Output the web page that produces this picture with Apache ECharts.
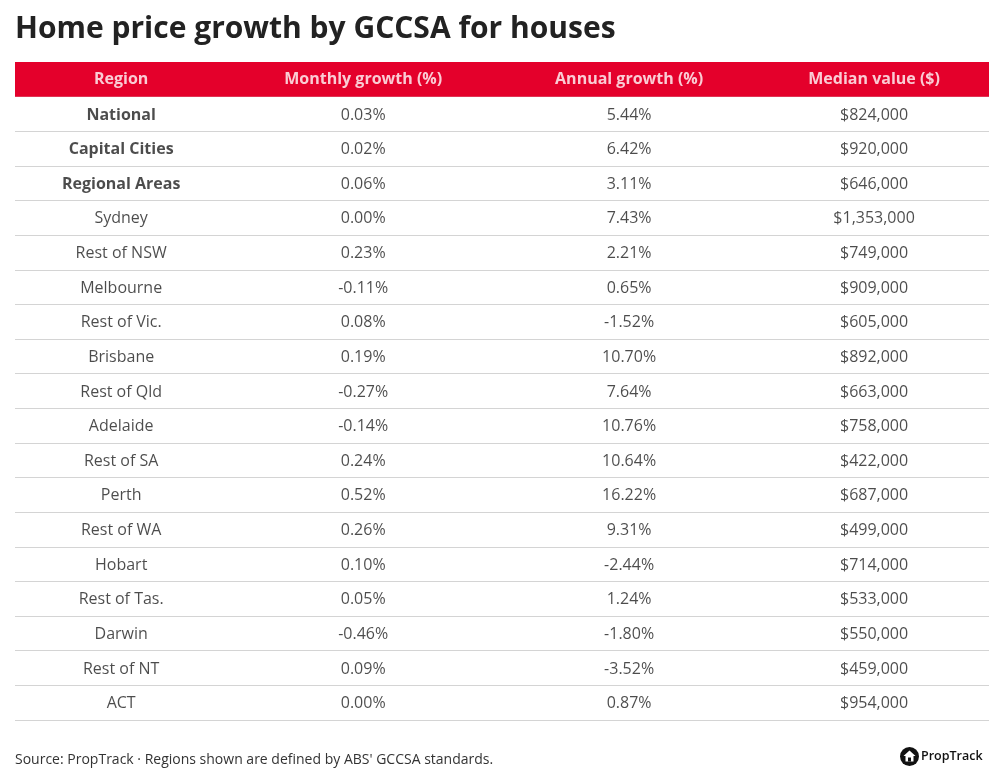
<!DOCTYPE html>
<html>
<head>
<meta charset="utf-8">
<script src="https://cdn.jsdelivr.net/npm/echarts@6/dist/echarts.min.js"></script>
<style>
  html, body { margin: 0; padding: 0; background: #ffffff; }
  #chart { width: 1004px; height: 782px; }
</style>
</head>
<body>
<div id="chart"></div>
<script>
// ---- Data ----
const headers = ['Region', 'Monthly growth (%)', 'Annual growth (%)', 'Median value ($)'];
const regions = ['National', 'Capital Cities', 'Regional Areas', 'Sydney', 'Rest of NSW', 'Melbourne',
  'Rest of Vic.', 'Brisbane', 'Rest of Qld', 'Adelaide', 'Rest of SA', 'Perth', 'Rest of WA',
  'Hobart', 'Rest of Tas.', 'Darwin', 'Rest of NT', 'ACT'];
const monthlyGrowth = [0.03, 0.02, 0.06, 0.00, 0.23, -0.11, 0.08, 0.19, -0.27, -0.14, 0.24, 0.52, 0.26, 0.10, 0.05, -0.46, 0.09, 0.00];
const annualGrowth = [5.44, 6.42, 3.11, 7.43, 2.21, 0.65, -1.52, 10.70, 7.64, 10.76, 10.64, 16.22, 9.31, -2.44, 1.24, -1.80, -3.52, 0.87];
const medianValue = [824000, 920000, 646000, 1353000, 749000, 909000, 605000, 892000, 663000, 758000, 422000, 687000, 499000, 714000, 533000, 550000, 459000, 954000];
const boldRegions = ['National', 'Capital Cities', 'Regional Areas'];

// ---- Layout constants (not data) ----
const FONT = '"Open Sans", "Noto Sans", sans-serif';
const colCenter = [0.436, 1.43, 2.522, 3.528]; // x positions on a 0..4 value axis
const HEADER_KEY = '__header__';
const rowKeys = [HEADER_KEY].concat(regions);

const pct = v => v.toFixed(2) + '%';
const money = v => '$' + v.toLocaleString('en-US');

function bodySeries(colIdx, texts) {
  return {
    type: 'scatter',
    symbolSize: 0,
    silent: true,
    z: 5,
    data: regions.map((r, i) => ({
      value: [colCenter[colIdx], r],
      label: {
        formatter: texts[i],
        fontWeight: (colIdx === 0 && boldRegions.includes(r)) ? 'bold' : 'normal'
      }
    })),
    label: {
      show: true, position: 'inside', offset: [0, 1], color: '#1f1f1f', fontSize: 16, fontFamily: FONT
    }
  };
}

const chart = echarts.init(document.getElementById('chart'), null, { renderer: 'canvas' });
chart.setOption({
  animation: false,
  backgroundColor: '#ffffff',
  title: {
    text: 'Home price growth by GCCSA for houses',
    left: 10, top: 9,
    textStyle: { fontFamily: FONT, fontSize: 30, fontWeight: 'bold', color: '#222222' }
  },
  grid: { left: 15, right: 15, top: 62, bottom: 62 },
  xAxis: { type: 'value', min: 0, max: 4, show: false },
  yAxis: {
    type: 'category', inverse: true, data: rowKeys,
    axisLine: { show: false }, axisTick: { show: false }, axisLabel: { show: false },
    splitLine: { show: true, lineStyle: { color: '#d4d4d4', width: 1 } }
  },
  graphic: [
    {
      type: 'text', left: 15, top: 753,
      style: { text: "Source: PropTrack · Regions shown are defined by ABS' GCCSA standards.",
        fontFamily: FONT, fontSize: 14, fill: '#333333' }
    },
    {
      type: 'group', left: 900, top: 747,
      children: [
        { type: 'circle', shape: { cx: 9.5, cy: 9.5, r: 9.5 }, style: { fill: '#111111' } },
        { type: 'polygon', shape: { points: [[9.5, 3.5], [15.5, 9], [13.5, 9], [13.5, 14.5], [5.5, 14.5], [5.5, 9], [3.5, 9]] },
          style: { fill: '#ffffff' } },
        { type: 'rect', shape: { x: 8, y: 10.5, width: 3, height: 4 }, style: { fill: '#111111' } },
        { type: 'text', x: 21, y: 3, style: { text: 'PropTrack', fontFamily: FONT, fontSize: 12.5, fontWeight: 600, fill: '#111111' } }
      ]
    }
  ],
  series: [
    {
      type: 'custom',
      silent: true,
      z: 3,
      data: [[0, HEADER_KEY]],
      renderItem: function (params, api) {
        const cs = params.coordSys;
        const c = api.coord([0, 0]);
        const h = api.size([0, 1])[1];
        return {
          type: 'rect',
          shape: { x: cs.x, y: c[1] - h / 2, width: cs.width, height: h },
          style: { fill: '#e4002b' }
        };
      }
    },
    {
      type: 'scatter',
      symbolSize: 0,
      silent: true,
      z: 6,
      data: headers.map((h, i) => ({ value: [colCenter[i], HEADER_KEY], label: { formatter: h } })),
      label: { show: true, position: 'inside', color: '#ffffff', fontSize: 16, fontWeight: 'bold', fontFamily: FONT }
    },
    bodySeries(0, regions),
    bodySeries(1, monthlyGrowth.map(pct)),
    bodySeries(2, annualGrowth.map(pct)),
    bodySeries(3, medianValue.map(money))
  ]
});
</script>
</body>
</html>
